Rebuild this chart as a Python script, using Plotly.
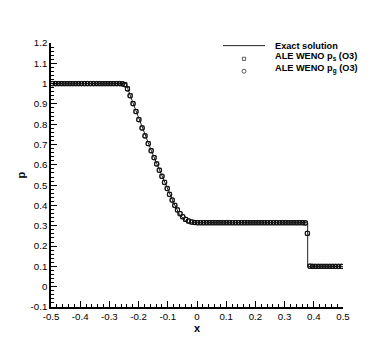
import plotly.graph_objects as go

# ---- data ----
x_exact = [-0.5, -0.243, -0.22, -0.20, -0.18, -0.16, -0.14, -0.12, -0.10, -0.08, -0.06, -0.04, -0.033,
           0.379, 0.379, 0.5]
p_exact = [1.0, 1.0, 0.908, 0.832, 0.755, 0.683, 0.614, 0.544, 0.476, 0.413, 0.356, 0.323, 0.315,
           0.315, 0.1, 0.1]

x_cells = [
    -0.495, -0.485, -0.475, -0.465, -0.455, -0.445, -0.435, -0.425, -0.415, -0.405,
    -0.395, -0.385, -0.375, -0.365, -0.355, -0.345, -0.335, -0.325, -0.315, -0.305,
    -0.295, -0.285, -0.275, -0.265, -0.256,
    -0.247, -0.238, -0.229, -0.219, -0.209, -0.199, -0.188, -0.178, -0.167, -0.157,
    -0.147, -0.138, -0.129, -0.120, -0.111, -0.102, -0.094, -0.085, -0.076, -0.067,
    -0.058, -0.049, -0.039, -0.029, -0.018, -0.008,
    0.002, 0.012, 0.022, 0.032, 0.042, 0.052, 0.062, 0.072, 0.082, 0.092,
    0.102, 0.112, 0.122, 0.132, 0.142, 0.152, 0.162, 0.172, 0.182, 0.192,
    0.202, 0.212, 0.222, 0.232, 0.242, 0.252, 0.262, 0.272, 0.282, 0.292,
    0.302, 0.312, 0.322, 0.332, 0.342, 0.352, 0.362, 0.371,
    0.378,
    0.387, 0.396, 0.405, 0.415, 0.425, 0.435, 0.445, 0.455, 0.465, 0.475, 0.485, 0.495,
]

p_s = [
    1.000, 1.000, 1.000, 1.000, 1.000, 1.000, 1.000, 1.000, 1.000, 1.000,
    1.000, 1.000, 1.000, 1.000, 1.000, 1.000, 1.000, 1.000, 1.000, 1.000,
    1.000, 1.000, 1.000, 1.000, 0.999,
    0.996, 0.975, 0.941, 0.902, 0.863, 0.823, 0.782, 0.743, 0.705, 0.670,
    0.636, 0.605, 0.574, 0.544, 0.514, 0.484, 0.455, 0.427, 0.401, 0.378,
    0.359, 0.344, 0.331, 0.323, 0.318, 0.316,
    0.315, 0.315, 0.315, 0.315, 0.315, 0.315, 0.315, 0.315, 0.315, 0.315,
    0.315, 0.315, 0.315, 0.315, 0.315, 0.315, 0.315, 0.315, 0.315, 0.315,
    0.315, 0.315, 0.315, 0.315, 0.315, 0.315, 0.315, 0.315, 0.315, 0.315,
    0.315, 0.315, 0.315, 0.315, 0.315, 0.315, 0.315, 0.314,
    0.262,
    0.101, 0.100, 0.100, 0.100, 0.100, 0.100, 0.100, 0.100, 0.100, 0.100, 0.100, 0.100,
]

p_g = [
    1.000, 1.000, 1.000, 1.000, 1.000, 1.000, 1.000, 1.000, 1.000, 1.000,
    1.000, 1.000, 1.000, 1.000, 1.000, 1.000, 1.000, 1.000, 1.000, 1.000,
    1.000, 1.000, 1.000, 1.000, 0.999,
    0.994, 0.973, 0.940, 0.901, 0.862, 0.822, 0.781, 0.742, 0.704, 0.669,
    0.635, 0.604, 0.573, 0.543, 0.513, 0.483, 0.454, 0.426, 0.400, 0.378,
    0.360, 0.345, 0.332, 0.324, 0.319, 0.316,
    0.315, 0.315, 0.315, 0.315, 0.315, 0.315, 0.315, 0.315, 0.315, 0.315,
    0.315, 0.315, 0.315, 0.315, 0.315, 0.315, 0.315, 0.315, 0.315, 0.315,
    0.315, 0.315, 0.315, 0.315, 0.315, 0.315, 0.315, 0.315, 0.315, 0.315,
    0.315, 0.315, 0.315, 0.315, 0.315, 0.315, 0.315, 0.314,
    0.263,
    0.101, 0.100, 0.100, 0.100, 0.100, 0.100, 0.100, 0.100, 0.100, 0.100, 0.100, 0.100,
]

x_ticks = [-0.5, -0.4, -0.3, -0.2, -0.1, 0, 0.1, 0.2, 0.3, 0.4, 0.5]
x_ticklabels = ["-0.5", "-0.4", "-0.3", "-0.2", "-0.1", "0", "0.1", "0.2", "0.3", "0.4", "0.5"]
y_ticks = [-0.1, 0, 0.1, 0.2, 0.3, 0.4, 0.5, 0.6, 0.7, 0.8, 0.9, 1.0, 1.1, 1.2]
y_ticklabels = ["-0.1", "0", "0.1", "0.2", "0.3", "0.4", "0.5", "0.6", "0.7", "0.8", "0.9", "1", "1.1", "1.2"]

legend_labels = ["<b>Exact solution</b>",
                 "<b>ALE WENO p<sub>s</sub> (O3)</b>",
                 "<b>ALE WENO p<sub>g</sub> (O3)</b>"]

FONT = "Arial, Liberation Sans, Helvetica, sans-serif"

fig = go.Figure()

fig.add_trace(go.Scatter(x=x_exact, y=p_exact, mode="lines", name="Exact solution",
                         line=dict(color="#222222", width=1)))
fig.add_trace(go.Scatter(x=x_cells, y=p_s, mode="markers", name="ALE WENO p_s (O3)",
                         marker=dict(symbol="square-open", size=4, color="#111111",
                                     line=dict(width=1, color="#111111"))))
fig.add_trace(go.Scatter(x=x_cells, y=p_g, mode="markers", name="ALE WENO p_g (O3)",
                         marker=dict(symbol="circle-open", size=4.5, color="#111111",
                                     line=dict(width=1, color="#111111"))))

# hand-drawn legend (tecplot style, tight rows)
leg_text_x = 0.760
leg_rows_y = [0.990, 0.949, 0.902]
for lbl, yy in zip(legend_labels, leg_rows_y):
    fig.add_annotation(x=leg_text_x, y=yy, xref="paper", yref="paper", text=lbl,
                       showarrow=False, xanchor="left", yanchor="middle",
                       font=dict(family=FONT, size=9.2, color="black"))

shapes = [
    dict(type="line", xref="paper", yref="paper", x0=0.589, x1=0.733,
         y0=leg_rows_y[0], y1=leg_rows_y[0], line=dict(color="#222222", width=1)),
    dict(type="rect", xref="paper", yref="paper", xsizemode="pixel", ysizemode="pixel",
         xanchor=0.661, yanchor=0.940, x0=-1.6, x1=1.6, y0=-1.6, y1=1.6,
         line=dict(color="#333333", width=0.8)),
    dict(type="circle", xref="paper", yref="paper", xsizemode="pixel", ysizemode="pixel",
         xanchor=0.661, yanchor=0.893, x0=-2, x1=2, y0=-2, y1=2,
         line=dict(color="#333333", width=0.8)),
]

axis_common = dict(
    showgrid=False, zeroline=False, showline=True, linecolor="black", linewidth=1.5,
    ticks="inside", ticklen=6, tickwidth=1.3, tickcolor="black",
    tickfont=dict(family=FONT, size=9.7, color="black"),
)

# page body adds an 8px offset, so margins are shifted to keep the plot area in place
fig.update_layout(
    width=390, height=347,
    margin=dict(l=43, r=55, t=35, b=48),
    paper_bgcolor="white", plot_bgcolor="white",
    showlegend=False,
    shapes=shapes,
    xaxis=dict(range=[-0.5, 0.5], tickvals=x_ticks, ticktext=x_ticklabels,
               minor=dict(tick0=0, dtick=0.02, ticks="inside", ticklen=3, tickwidth=1, tickcolor="black"),
               title=dict(text="<b>x</b>", standoff=1, font=dict(family=FONT, size=11, color="black")),
               **axis_common),
    yaxis=dict(range=[-0.1, 1.2], tickvals=y_ticks, ticktext=y_ticklabels,
               minor=dict(tick0=0, dtick=0.02, ticks="inside", ticklen=3, tickwidth=1, tickcolor="black"),
               title=dict(text="<b>p</b>", standoff=3, font=dict(family=FONT, size=11, color="black")),
               **axis_common),
)

fig.write_html("out.html")
